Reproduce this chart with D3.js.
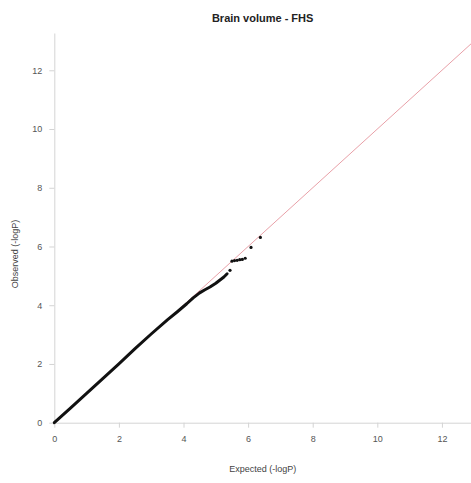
<!DOCTYPE html>
<html>
<head>
<meta charset="utf-8">
<script src="https://cdn.jsdelivr.net/npm/d3@7"></script>
<style>
  body { margin: 0; background: #fff; }
  svg text { font-family: "Liberation Sans", Arial, sans-serif; }
</style>
</head>
<body>
<div class="chart"></div>
<script>
// QQ plot data
let title = "Brain volume - FHS";
let xTicks = [0, 2, 4, 6, 8, 10, 12];
let yTicks = [0, 2, 4, 6, 8, 10, 12];

// dense part of the points (drawn as a thick trace)
let bulkExpected = [0, 0.5, 1, 1.5, 2, 2.5, 3, 3.5, 3.8, 4.1, 4.3, 4.5, 4.65, 4.82, 5.0, 5.13, 5.25, 5.35];
let bulkObserved = [0, 0.5, 1, 1.5, 2, 2.52, 3.02, 3.5, 3.77, 4.05, 4.25, 4.42, 4.52, 4.62, 4.75, 4.86, 4.96, 5.07];

// sparse tail points
let tailExpected = [5.44, 5.5, 5.58, 5.66, 5.74, 5.82, 5.91, 6.09, 6.38];
let tailObserved = [5.19, 5.5, 5.52, 5.53, 5.55, 5.56, 5.6, 5.97, 6.31];

let w = 471;
let h = 483;

let svg = d3.select(".chart")
            .append("svg")
            .attr("width", w)
            .attr("height", h);

let x = d3.scaleLinear().domain([0, 12.9]).range([54.3, 471]);
let y = d3.scaleLinear().domain([0, 13.27]).range([422.7, 33]);

// axes
let xAxis = d3.axisBottom(x).tickValues(xTicks).tickSize(5).tickPadding(8).tickSizeOuter(0);
let yAxis = d3.axisLeft(y).tickValues(yTicks).tickSize(5).tickPadding(7).tickSizeOuter(0);

let gx = svg.append("g").attr("transform", "translate(0," + y(0) + ")").call(xAxis);
let gy = svg.append("g").attr("transform", "translate(" + x(0) + ",0)").call(yAxis);

[gx, gy].forEach(function(g) {
  g.select(".domain").attr("stroke", "#d4d4d4");
  g.selectAll(".tick line").attr("stroke", "#d4d4d4");
  g.selectAll(".tick text")
    .attr("fill", "#555")
    .style("font-size", "9px")
    .style("font-family", "'Liberation Sans', Arial, sans-serif");
});

// expected line y = x
svg.append("line")
   .attr("x1", x(0)).attr("y1", y(0))
   .attr("x2", x(12.9)).attr("y2", y(12.9))
   .attr("stroke", "#e8a0a8")
   .attr("stroke-width", 1);

// bulk trace
let bulk = bulkExpected.map(function(e, i) { return [e, bulkObserved[i]]; });
svg.append("path")
   .datum(bulk)
   .attr("d", d3.line().x(function(d) { return x(d[0]); }).y(function(d) { return y(d[1]); }))
   .attr("fill", "none")
   .attr("stroke", "#111")
   .attr("stroke-width", 3)
   .attr("stroke-linecap", "round")
   .attr("stroke-linejoin", "round");

// tail points
let tail = tailExpected.map(function(e, i) { return [e, tailObserved[i]]; });
svg.selectAll("circle.pt")
   .data(tail)
   .enter()
   .append("circle")
   .attr("class", "pt")
   .attr("cx", function(d) { return x(d[0]); })
   .attr("cy", function(d) { return y(d[1]); })
   .attr("r", 1.6)
   .attr("fill", "#111");

// title and axis labels
svg.append("text")
   .attr("x", (x(0) + 471) / 2)
   .attr("y", 22)
   .attr("text-anchor", "middle")
   .style("font-size", "11px")
   .style("font-weight", "bold")
   .attr("fill", "#222")
   .text(title);

svg.append("text")
   .attr("x", (x(0) + 471) / 2)
   .attr("y", 472)
   .attr("text-anchor", "middle")
   .style("font-size", "9px")
   .attr("fill", "#444")
   .text("Expected (-logP)");

svg.append("text")
   .attr("transform", "translate(18,254) rotate(-90)")
   .attr("text-anchor", "middle")
   .style("font-size", "9px")
   .attr("fill", "#444")
   .text("Observed (-logP)");
</script>
</body>
</html>
